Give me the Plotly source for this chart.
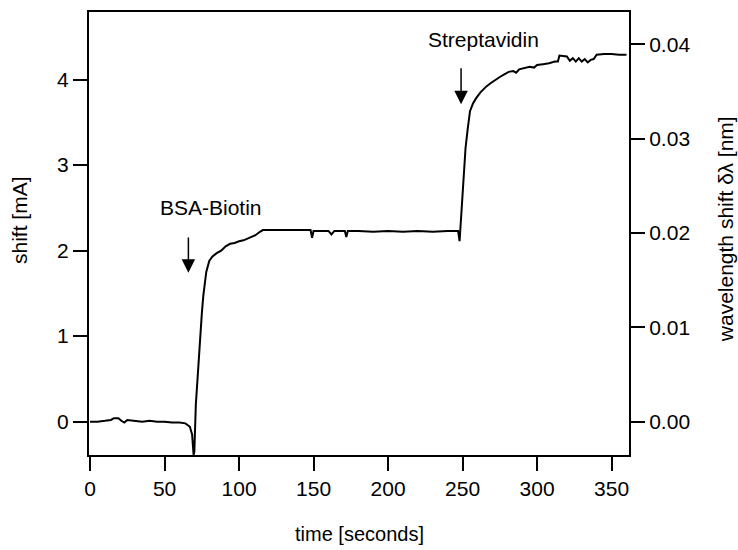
import plotly.graph_objects as go

# time [seconds]
time_s = [0, 5, 10, 14, 16, 19, 21, 23, 25, 30, 35, 40, 45, 50, 55, 60, 64, 67, 68.5, 69.5,
          70, 71, 72, 73, 74, 75, 76, 77, 78, 80, 82, 85, 88, 91, 94, 97, 100, 103, 106, 108,
          111, 114, 116, 120, 130, 140, 148, 149, 150, 160, 162, 164, 171, 172, 173, 180, 190,
          200, 210, 220, 230, 240, 247, 248, 249, 250, 251, 252, 253.5, 255, 257, 259, 262, 266,
          269, 272, 275, 278, 281, 284, 286, 288, 292, 295, 298, 300, 304, 308, 312, 314, 315,
          318, 320, 322, 324, 326, 328, 330, 332, 334, 336, 338, 340, 345, 350, 355, 360]
# shift [mA]
shift_mA = [0.00, 0.00, 0.01, 0.02, 0.04, 0.04, 0.01, -0.01, 0.02, 0.01, 0.00, 0.01, 0.00, 0.00,
            -0.01, -0.01, -0.02, -0.06, -0.15, -0.39,
            -0.35, 0.20, 0.50, 0.80, 1.05, 1.26, 1.47, 1.65, 1.75, 1.88, 1.93, 1.97, 2.00, 2.05,
            2.08, 2.09, 2.11, 2.12, 2.14, 2.16,
            2.18, 2.22, 2.24, 2.24, 2.24, 2.24, 2.24, 2.15, 2.23, 2.23, 2.19, 2.23, 2.23, 2.16,
            2.23, 2.23, 2.22,
            2.23, 2.22, 2.23, 2.22, 2.23, 2.23, 2.11, 2.40, 2.70, 2.97, 3.20, 3.43, 3.63, 3.72,
            3.78, 3.85, 3.92,
            3.96, 3.99, 4.03, 4.06, 4.09, 4.10, 4.08, 4.12, 4.14, 4.15, 4.14, 4.17, 4.18, 4.19,
            4.21, 4.21, 4.28,
            4.27, 4.27, 4.22, 4.25, 4.21, 4.25, 4.21, 4.24, 4.20, 4.23, 4.24, 4.29, 4.30, 4.30,
            4.29, 4.29]

x_ticks = [0, 50, 100, 150, 200, 250, 300, 350]
y_ticks = [0, 1, 2, 3, 4]
y2_ticks = [0.00, 0.01, 0.02, 0.03, 0.04]
y2_ticktext = ["0.00", "0.01", "0.02", "0.03", "0.04"]

nm_per_mA = 0.009066
wavelength_nm = [v * nm_per_mA for v in shift_mA]

FONT = "Liberation Sans, Arial, sans-serif"

fig = go.Figure()
fig.add_trace(go.Scatter(x=time_s, y=shift_mA, mode="lines",
                         line=dict(color="black", width=2), showlegend=False))
fig.add_trace(go.Scatter(x=time_s, y=wavelength_nm, mode="lines", yaxis="y2",
                         line=dict(color="rgba(0,0,0,0)", width=0), showlegend=False,
                         hoverinfo="skip"))

yr = [-0.39, 4.79]
axis_common = dict(showline=True, linecolor="black", linewidth=2, ticks="outside",
                   ticklen=14, tickwidth=1.5, tickcolor="black", showgrid=False,
                   zeroline=False, tickfont=dict(family=FONT, size=21, color="black"))

fig.update_layout(
    width=738, height=550,
    margin=dict(l=89, r=109, t=10, b=95),
    paper_bgcolor="white", plot_bgcolor="white",
    font=dict(family=FONT, color="black"),
    xaxis=dict(range=[-0.7, 361.7], tickvals=x_ticks, mirror=True, **axis_common),
    yaxis=dict(range=yr, tickvals=y_ticks, **axis_common),
    yaxis2=dict(range=[yr[0] * nm_per_mA, yr[1] * nm_per_mA], tickvals=y2_ticks,
                ticktext=y2_ticktext, overlaying="y", side="right", **axis_common),
)

annotations = [
    dict(text="time [seconds]", xref="paper", yref="paper", x=0.5, y=-0.15,
         yanchor="top", showarrow=False, font=dict(family=FONT, size=20)),
    dict(text="shift [mA]", xref="paper", yref="paper", x=-0.155, y=0.53,
         textangle=-90, showarrow=False, font=dict(family=FONT, size=21)),
    dict(text="wavelength shift δλ [nm]", xref="paper", yref="paper", x=1.203, y=0.51,
         textangle=-90, showarrow=False, font=dict(family=FONT, size=21)),
    dict(text="BSA-Biotin", x=81.5, y=2.50, showarrow=False,
         font=dict(family=FONT, size=21)),
    dict(text="Streptavidin", x=263.8, y=4.47, showarrow=False,
         font=dict(family=FONT, size=21)),
    dict(text="", x=66, y=1.74, ax=66, ay=2.17, axref="x", ayref="y",
         showarrow=True, arrowhead=2, arrowsize=1.8, arrowwidth=1.5, arrowcolor="black"),
    dict(text="", x=249, y=3.71, ax=249, ay=4.15, axref="x", ayref="y",
         showarrow=True, arrowhead=2, arrowsize=1.8, arrowwidth=1.5, arrowcolor="black"),
]
fig.update_layout(annotations=annotations)

fig.write_html("out.html")
